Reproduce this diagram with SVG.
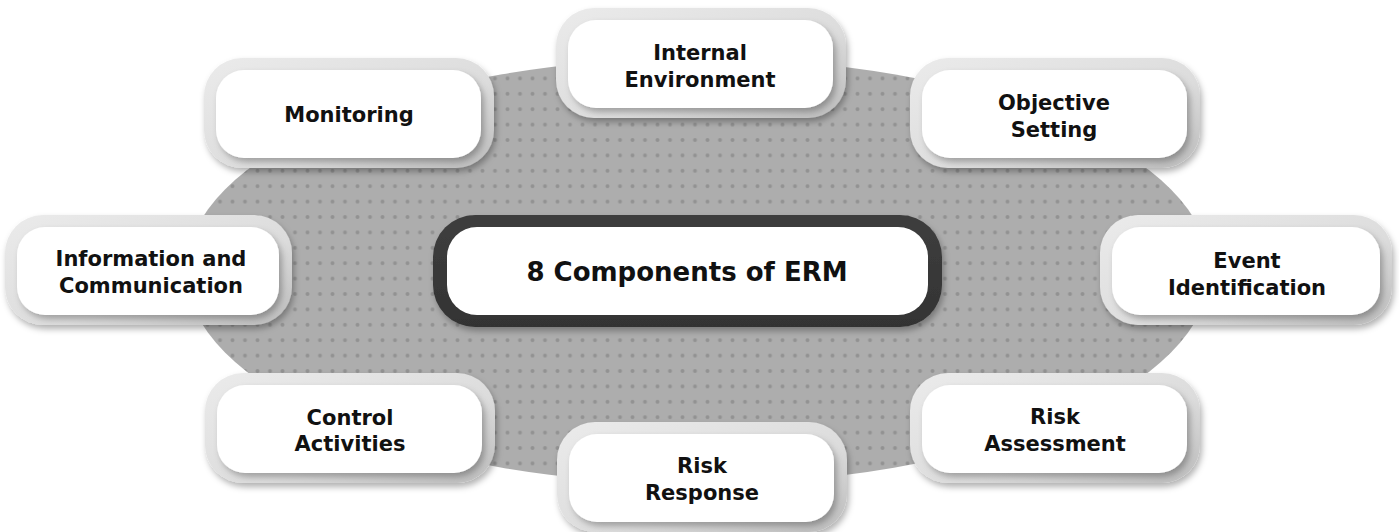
<svg xmlns="http://www.w3.org/2000/svg" width="1399" height="532" viewBox="0 0 1399 532">
<defs>
<pattern id="dots" patternUnits="userSpaceOnUse" x="538.75" y="132.3" width="12.5" height="15.4">
<rect width="12.5" height="15.4" fill="#adadad"/>
<circle cx="6.25" cy="7.7" r="2" fill="#929292"/>
</pattern>
<linearGradient id="ring" x1="0" y1="0" x2="1" y2="1">
<stop offset="0" stop-color="#ebebeb"/>
<stop offset="0.6" stop-color="#dcdcdc"/>
<stop offset="1" stop-color="#bcbcbc"/>
</linearGradient>
<linearGradient id="dark" x1="0" y1="0" x2="0" y2="1">
<stop offset="0" stop-color="#3e3e3e"/>
<stop offset="1" stop-color="#333333"/>
</linearGradient>
<filter id="sh" x="-10%" y="-15%" width="125%" height="140%">
<feDropShadow dx="2" dy="4" stdDeviation="3" flood-color="#000" flood-opacity="0.3"/>
</filter>
<filter id="ish" x="-10%" y="-15%" width="125%" height="140%">
<feDropShadow dx="3" dy="4" stdDeviation="3" flood-color="#000" flood-opacity="0.28"/>
</filter>
</defs>
<style>
.ring{fill:url(#ring);filter:url(#sh)}
.in{fill:#ffffff;filter:url(#ish)}
.t{font-family:"DejaVu Sans",Verdana,sans-serif;font-weight:bold;font-size:21px;fill:#111;text-anchor:middle}
.tt{font-family:"DejaVu Sans",Verdana,sans-serif;font-weight:bold;font-size:26px;fill:#111;text-anchor:middle}
</style>
<rect width="1399" height="532" fill="#ffffff"/>
<ellipse id="backdrop" cx="698" cy="271" rx="512" ry="213" fill="url(#dots)"/>
<g id="connectors"/>
<g id="center">
<rect x="433" y="215" width="509" height="112" rx="42" fill="url(#dark)" filter="url(#sh)"/>
<rect x="447" y="227" width="481" height="88" rx="30" fill="#fff"/>
<text class="tt" x="687" y="281">8 Components of ERM</text>
</g>
<g id="internal-environment">
<rect class="ring" x="556" y="8" width="290" height="110" rx="38"/>
<rect class="in" x="568" y="20" width="265" height="88" rx="28"/>
<text class="t" x="700" y="60">Internal</text>
<text class="t" x="700" y="87">Environment</text>
</g>
<g id="monitoring">
<rect class="ring" x="204" y="58" width="290" height="110" rx="38"/>
<rect class="in" x="216" y="70" width="265" height="88" rx="28"/>
<text class="t" x="349" y="122">Monitoring</text>
</g>
<g id="objective-setting">
<rect class="ring" x="910" y="58" width="290" height="110" rx="38"/>
<rect class="in" x="922" y="70" width="265" height="88" rx="28"/>
<text class="t" x="1054" y="110">Objective</text>
<text class="t" x="1054" y="137">Setting</text>
</g>
<g id="information-communication">
<rect class="ring" x="5" y="215" width="287" height="110" rx="38"/>
<rect class="in" x="17" y="227" width="262" height="88" rx="28"/>
<text class="t" x="151" y="266">Information and</text>
<text class="t" x="151" y="293">Communication</text>
</g>
<g id="event-identification">
<rect class="ring" x="1100" y="215" width="292" height="110" rx="38"/>
<rect class="in" x="1112" y="227" width="268" height="88" rx="28"/>
<text class="t" x="1247" y="268">Event</text>
<text class="t" x="1247" y="295">Identification</text>
</g>
<g id="control-activities">
<rect class="ring" x="205" y="373" width="290" height="110" rx="38"/>
<rect class="in" x="217" y="385" width="265" height="88" rx="28"/>
<text class="t" x="350" y="425">Control</text>
<text class="t" x="350" y="451">Activities</text>
</g>
<g id="risk-assessment">
<rect class="ring" x="910" y="373" width="290" height="110" rx="38"/>
<rect class="in" x="922" y="385" width="265" height="88" rx="28"/>
<text class="t" x="1055" y="424">Risk</text>
<text class="t" x="1055" y="451">Assessment</text>
</g>
<g id="risk-response">
<rect class="ring" x="557" y="422" width="290" height="110" rx="38"/>
<rect class="in" x="569" y="434" width="265" height="88" rx="28"/>
<text class="t" x="702" y="473">Risk</text>
<text class="t" x="702" y="500">Response</text>
</g>
</svg>
